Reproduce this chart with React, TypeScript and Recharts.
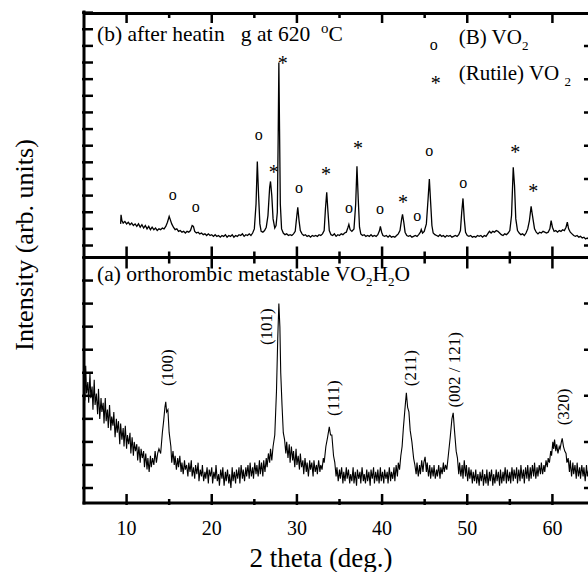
import React from "react";
import { ComposedChart, Line, Scatter, XAxis, YAxis } from "recharts";

const FONT = "'Liberation Serif', 'Times New Roman', serif";

// 2 theta axis
const thetaDomain = [5, 65];
const thetaTicks = [10, 15, 20, 25, 30, 35, 40, 45, 50, 55, 60];

// both panels share one intensity axis: (a) sits in [-0.65, 10], (b) is stacked above it
const intensityDomain = [-0.65, 20.65];
const panelSplit = 10;
const heatedBase = 10.52; // where (b)'s zero sits on the shared axis
const heatedScale = 0.7217; // (b) units are drawn smaller than (a) units

// intensity tick marks (arbitrary units, no labels)
const heatedTicksLeft = [0, 1, 2, 3, 4, 5, 6, 7, 8, 9, 10, 11, 12, 13, 14];
const heatedTicksRight = [0, 2, 4, 6, 8, 10, 12, 14];
const preparedTicksLeft = [0, 1, 2, 3, 4, 5, 6, 7, 8, 9];
const preparedTicksRight = [0, 2, 4, 6, 8];

// (b) after heating at 620 C : [2theta, intensity]
const heatedScan: [number, number][] = [
  [9.3, 1.3], [9.35, 1.85], [9.45, 1.5], [9.6, 1.35], [9.8, 1.45], [10.0, 1.3], [10.2, 1.4], [10.4, 1.25],
  [10.6, 1.35], [10.8, 1.2], [11.0, 1.3], [11.2, 1.15], [11.4, 1.3], [11.6, 1.1], [11.8, 1.25], [12.0, 1.05],
  [12.2, 1.2], [12.4, 1.0], [12.6, 1.15], [12.8, 0.95], [13.0, 1.1], [13.2, 0.95], [13.4, 1.05], [13.6, 0.9],
  [13.8, 1.0], [14.0, 0.95], [14.2, 1.05], [14.4, 1.0], [14.6, 1.15], [14.8, 1.4], [15.0, 1.75], [15.1, 1.6],
  [15.3, 1.3], [15.5, 1.1], [15.7, 0.95], [15.9, 1.0], [16.1, 0.85], [16.3, 0.9], [16.5, 0.8], [16.7, 0.85],
  [16.9, 0.75], [17.1, 0.85], [17.3, 0.8], [17.5, 0.9], [17.7, 1.2], [17.85, 1.15], [18.0, 0.85], [18.2, 0.75],
  [18.4, 0.8], [18.6, 0.7], [18.8, 0.75], [19.0, 0.65], [19.2, 0.7], [19.4, 0.6], [19.6, 0.7], [19.8, 0.6],
  [20.0, 0.65], [20.2, 0.55], [20.4, 0.65], [20.6, 0.55], [20.8, 0.6], [21.0, 0.5], [21.2, 0.6], [21.4, 0.55],
  [21.6, 0.65], [21.8, 0.5], [22.0, 0.6], [22.2, 0.55], [22.4, 0.65], [22.6, 0.5], [22.8, 0.6], [23.0, 0.55],
  [23.2, 0.65], [23.4, 0.6], [23.6, 0.7], [23.8, 0.55], [24.0, 0.65], [24.2, 0.6], [24.4, 0.7], [24.6, 0.6],
  [24.8, 0.75], [25.0, 1.0], [25.2, 2.5], [25.35, 5.05], [25.5, 3.0], [25.65, 1.3], [25.8, 0.85], [26.0, 0.8],
  [26.2, 0.9], [26.4, 1.1], [26.6, 1.8], [26.8, 3.5], [26.9, 3.85], [27.05, 3.0], [27.2, 1.6], [27.4, 1.05],
  [27.55, 1.2], [27.7, 2.0], [27.8, 6.5], [27.88, 11.0], [27.96, 7.0], [28.05, 2.5], [28.2, 1.0], [28.4, 0.75],
  [28.6, 0.65], [28.8, 0.7], [29.0, 0.6], [29.2, 0.65], [29.4, 0.6], [29.6, 0.7], [29.8, 0.85], [29.95, 1.6],
  [30.1, 2.3], [30.25, 1.5], [30.4, 0.9], [30.6, 0.7], [30.8, 0.6], [31.0, 0.65], [31.2, 0.55], [31.4, 0.6],
  [31.6, 0.5], [31.8, 0.6], [32.0, 0.55], [32.2, 0.6], [32.4, 0.55], [32.6, 0.65], [32.8, 0.6], [33.0, 0.7],
  [33.2, 0.9], [33.35, 2.2], [33.5, 3.2], [33.65, 2.0], [33.8, 0.9], [34.0, 0.65], [34.2, 0.6], [34.4, 0.7],
  [34.6, 0.55], [34.8, 0.65], [35.0, 0.6], [35.2, 0.7], [35.4, 0.65], [35.6, 0.75], [35.8, 0.8], [36.0, 1.1],
  [36.1, 1.27], [36.25, 0.95], [36.45, 0.85], [36.7, 1.0], [36.9, 2.5], [37.05, 4.76], [37.2, 2.8], [37.35, 1.1],
  [37.5, 0.7], [37.7, 0.6], [37.9, 0.65], [38.1, 0.55], [38.3, 0.6], [38.5, 0.55], [38.7, 0.65], [38.9, 0.55],
  [39.1, 0.6], [39.3, 0.55], [39.5, 0.65], [39.7, 0.9], [39.8, 1.15], [39.95, 0.8], [40.1, 0.6], [40.3, 0.55],
  [40.5, 0.6], [40.7, 0.5], [40.9, 0.6], [41.1, 0.5], [41.3, 0.55], [41.5, 0.5], [41.7, 0.6], [41.9, 0.7],
  [42.1, 0.9], [42.3, 1.6], [42.4, 1.87], [42.55, 1.4], [42.7, 0.8], [42.9, 0.6], [43.1, 0.55], [43.3, 0.6],
  [43.5, 0.5], [43.7, 0.55], [43.9, 0.6], [44.1, 0.55], [44.3, 0.65], [44.5, 0.8], [44.6, 0.96], [44.75, 0.75],
  [44.95, 0.85], [45.2, 1.3], [45.4, 2.8], [45.55, 4.0], [45.7, 2.6], [45.85, 1.2], [46.0, 0.75], [46.2, 0.65],
  [46.4, 0.6], [46.6, 0.55], [46.8, 0.65], [47.0, 0.55], [47.2, 0.6], [47.4, 0.5], [47.6, 0.6], [47.8, 0.55],
  [48.0, 0.6], [48.2, 0.5], [48.4, 0.55], [48.6, 0.6], [48.8, 0.55], [49.0, 0.65], [49.2, 0.9], [49.35, 2.0],
  [49.5, 2.83], [49.65, 1.6], [49.8, 0.8], [50.0, 0.6], [50.2, 0.55], [50.4, 0.6], [50.6, 0.5], [50.8, 0.55],
  [51.0, 0.5], [51.2, 0.6], [51.4, 0.55], [51.6, 0.6], [51.8, 0.5], [52.0, 0.6], [52.2, 0.55], [52.4, 0.7],
  [52.6, 0.85], [52.8, 0.75], [53.0, 0.85], [53.2, 0.8], [53.4, 0.9], [53.6, 0.85], [53.8, 0.75], [54.0, 0.65],
  [54.2, 0.6], [54.4, 0.7], [54.6, 0.65], [54.8, 0.75], [55.0, 0.9], [55.2, 1.8], [55.4, 4.7], [55.55, 3.6],
  [55.7, 1.6], [55.9, 0.9], [56.1, 0.75], [56.3, 0.65], [56.5, 0.7], [56.7, 0.6], [56.9, 0.75], [57.1, 1.0],
  [57.3, 1.5], [57.5, 2.35], [57.6, 2.0], [57.75, 1.5], [57.9, 1.0], [58.1, 0.8], [58.3, 0.7], [58.5, 0.8],
  [58.7, 0.75], [58.9, 0.85], [59.1, 0.8], [59.3, 0.75], [59.5, 0.8], [59.7, 1.0], [59.85, 1.5], [60.0, 1.1],
  [60.2, 0.85], [60.4, 0.9], [60.6, 0.8], [60.8, 0.9], [61.0, 0.85], [61.2, 0.95], [61.4, 0.9], [61.6, 1.1],
  [61.75, 1.4], [61.9, 1.0], [62.1, 0.8], [62.3, 0.7], [62.5, 0.6], [62.7, 0.55], [62.9, 0.6], [63.1, 0.5],
  [63.3, 0.55], [63.5, 0.45], [63.7, 0.5], [63.9, 0.4], [64.1, 0.45], [64.3, 0.35], [64.5, 0.4], [64.7, 0.3],
  [65.0, 0.35],
];

// (a) orthorhombic metastable VO2 H2O : [2theta, intensity]
const preparedScan: [number, number][] = [
  [5.0, 4.9], [5.1, 3.8], [5.2, 5.3], [5.3, 4.1], [5.45, 4.6], [5.55, 3.7], [5.7, 5.0], [5.8, 3.9],
  [5.95, 4.4], [6.05, 3.4], [6.2, 4.7], [6.3, 3.6], [6.45, 4.1], [6.6, 3.2], [6.7, 4.3], [6.85, 3.0],
  [7.0, 3.9], [7.1, 3.3], [7.25, 3.7], [7.35, 2.8], [7.5, 3.9], [7.6, 2.9], [7.75, 3.4], [7.85, 2.6],
  [8.0, 3.6], [8.15, 2.5], [8.25, 3.1], [8.4, 2.7], [8.5, 3.3], [8.65, 2.2], [8.8, 3.0], [8.9, 2.4],
  [9.05, 2.9], [9.2, 1.9], [9.3, 2.8], [9.45, 2.1], [9.6, 2.6], [9.7, 1.8], [9.85, 2.7], [10.0, 1.7],
  [10.1, 2.3], [10.25, 1.9], [10.4, 2.4], [10.5, 1.5], [10.65, 2.2], [10.8, 1.4], [10.9, 2.0], [11.05, 1.6],
  [11.2, 1.9], [11.3, 1.2], [11.45, 1.8], [11.6, 1.1], [11.7, 1.7], [11.85, 1.3], [12.0, 1.6], [12.1, 0.9],
  [12.25, 1.5], [12.4, 0.8], [12.5, 1.3], [12.65, 0.7], [12.8, 1.4], [12.9, 0.9], [13.05, 1.3], [13.2, 1.0],
  [13.35, 1.6], [13.5, 1.1], [13.65, 1.5], [13.8, 1.7], [14.0, 1.5], [14.2, 2.4], [14.35, 2.9], [14.5, 3.5],
  [14.6, 3.74], [14.7, 3.3], [14.85, 3.4], [15.0, 2.4], [15.2, 1.8], [15.3, 1.1], [15.45, 1.6], [15.6, 1.0],
  [15.7, 1.4], [15.85, 0.8], [16.0, 1.3], [16.1, 0.9], [16.25, 1.4], [16.4, 0.7], [16.5, 1.1], [16.65, 0.6],
  [16.8, 1.2], [16.9, 0.8], [17.05, 1.0], [17.2, 0.5], [17.3, 1.1], [17.45, 0.7], [17.6, 1.2], [17.7, 0.5],
  [17.85, 0.9], [18.0, 0.4], [18.1, 1.0], [18.25, 0.6], [18.4, 1.1], [18.5, 0.3], [18.65, 0.8], [18.8, 0.5],
  [18.9, 1.0], [19.05, 0.3], [19.2, 0.7], [19.3, 0.4], [19.45, 0.9], [19.6, 0.2], [19.7, 0.8], [19.85, 0.5],
  [20.0, 0.9], [20.1, 0.2], [20.25, 0.7], [20.4, 0.4], [20.5, 1.0], [20.65, 0.3], [20.8, 0.6], [20.9, 0.1],
  [21.05, 0.8], [21.2, 0.4], [21.3, 0.9], [21.45, 0.1], [21.6, 0.7], [21.7, 0.3], [21.85, 0.8], [22.0, 0.2],
  [22.1, 0.6], [22.25, 0.0], [22.4, 0.9], [22.5, 0.3], [22.65, 0.7], [22.8, 0.2], [22.9, 0.8], [23.05, 0.4],
  [23.2, 0.9], [23.3, 0.2], [23.45, 1.0], [23.6, 0.4], [23.7, 0.8], [23.85, 0.3], [24.0, 0.9], [24.1, 0.5],
  [24.25, 1.0], [24.4, 0.4], [24.5, 1.1], [24.65, 0.5], [24.8, 0.9], [24.9, 0.4], [25.05, 1.1], [25.2, 0.6],
  [25.3, 1.0], [25.45, 0.5], [25.6, 1.2], [25.7, 0.6], [25.85, 1.1], [26.0, 0.5], [26.1, 1.2], [26.25, 0.7],
  [26.4, 1.3], [26.5, 0.9], [26.65, 1.5], [26.8, 1.1], [26.9, 1.7], [27.05, 1.2], [27.2, 1.8], [27.4, 2.3],
  [27.6, 4.2], [27.75, 6.5], [27.88, 8.0], [28.0, 7.0], [28.1, 5.0], [28.25, 3.6], [28.4, 2.4], [28.55, 2.1],
  [28.7, 1.5], [28.8, 2.0], [28.95, 1.3], [29.1, 1.9], [29.2, 1.1], [29.35, 1.8], [29.5, 1.2], [29.6, 1.6],
  [29.75, 0.9], [29.9, 1.7], [30.0, 1.0], [30.15, 1.4], [30.3, 0.8], [30.4, 1.5], [30.55, 0.9], [30.7, 1.2],
  [30.8, 0.6], [30.95, 1.3], [31.1, 0.7], [31.2, 1.1], [31.35, 0.5], [31.5, 1.2], [31.6, 0.8], [31.75, 1.1],
  [31.9, 0.5], [32.0, 1.2], [32.15, 0.7], [32.3, 1.0], [32.4, 0.6], [32.55, 1.2], [32.7, 0.7], [32.8, 1.0],
  [32.95, 0.8], [33.1, 1.3], [33.2, 1.1], [33.4, 1.8], [33.6, 2.2], [33.8, 2.65], [33.95, 2.3], [34.1, 2.3],
  [34.3, 1.4], [34.45, 1.1], [34.6, 0.5], [34.7, 0.9], [34.85, 0.3], [35.0, 0.8], [35.1, 0.4], [35.25, 0.9],
  [35.4, 0.2], [35.5, 0.7], [35.65, 0.3], [35.8, 0.9], [35.9, 0.4], [36.05, 0.8], [36.2, 0.2], [36.3, 0.6],
  [36.45, 0.3], [36.6, 0.9], [36.7, 0.2], [36.85, 0.7], [37.0, 0.1], [37.1, 0.8], [37.25, 0.4], [37.4, 0.7],
  [37.5, 0.2], [37.65, 0.9], [37.8, 0.3], [37.9, 0.6], [38.05, 0.2], [38.2, 0.8], [38.3, 0.3], [38.45, 0.7],
  [38.6, 0.1], [38.7, 0.8], [38.85, 0.4], [39.0, 0.9], [39.1, 0.2], [39.25, 0.7], [39.4, 0.3], [39.5, 0.8],
  [39.65, 0.2], [39.8, 0.9], [39.9, 0.3], [40.05, 0.7], [40.2, 0.2], [40.3, 0.8], [40.45, 0.4], [40.6, 0.7],
  [40.7, 0.2], [40.85, 0.9], [41.0, 0.3], [41.1, 0.7], [41.25, 0.4], [41.4, 0.9], [41.5, 0.3], [41.65, 1.0],
  [41.8, 0.5], [41.9, 1.1], [42.05, 0.8], [42.2, 1.4], [42.35, 1.8], [42.5, 2.6], [42.7, 3.5], [42.85, 4.13],
  [43.0, 3.5], [43.15, 3.3], [43.3, 2.5], [43.5, 2.0], [43.7, 1.3], [43.85, 1.0], [44.0, 0.6], [44.1, 1.1],
  [44.25, 0.5], [44.4, 1.0], [44.5, 0.6], [44.65, 1.2], [44.8, 0.7], [44.9, 1.1], [45.05, 1.35], [45.2, 0.7],
  [45.3, 1.1], [45.45, 0.5], [45.6, 1.0], [45.7, 0.4], [45.85, 0.9], [46.0, 0.5], [46.1, 1.0], [46.25, 0.4],
  [46.4, 0.8], [46.5, 0.5], [46.65, 1.0], [46.8, 0.4], [46.9, 0.9], [47.05, 0.6], [47.2, 1.1], [47.3, 0.7],
  [47.45, 1.0], [47.6, 0.8], [47.8, 1.5], [48.0, 2.2], [48.2, 3.0], [48.35, 3.26], [48.5, 2.5], [48.7, 1.6],
  [48.85, 1.3], [49.0, 0.6], [49.1, 1.1], [49.25, 0.5], [49.4, 1.0], [49.5, 0.4], [49.65, 1.2], [49.8, 0.5],
  [49.9, 1.0], [50.05, 0.3], [50.2, 0.9], [50.3, 0.4], [50.45, 0.8], [50.6, 0.2], [50.7, 0.7], [50.85, 0.3],
  [51.0, 0.8], [51.1, 0.2], [51.25, 0.6], [51.4, 0.1], [51.5, 0.7], [51.65, 0.3], [51.8, 0.8], [51.9, 0.1],
  [52.05, 0.6], [52.2, 0.2], [52.3, 0.8], [52.45, 0.1], [52.6, 0.7], [52.7, 0.3], [52.85, 0.8], [53.0, 0.1],
  [53.1, 0.6], [53.25, 0.2], [53.4, 0.8], [53.5, 0.3], [53.65, 0.7], [53.8, 0.1], [53.9, 0.8], [54.05, 0.2],
  [54.2, 0.7], [54.3, 0.3], [54.45, 0.9], [54.6, 0.2], [54.7, 0.8], [54.85, 0.3], [55.0, 0.7], [55.1, 0.2],
  [55.25, 0.9], [55.4, 0.3], [55.5, 0.8], [55.65, 0.4], [55.8, 0.9], [55.9, 0.2], [56.05, 0.8], [56.2, 0.3],
  [56.3, 1.0], [56.45, 0.4], [56.6, 0.8], [56.7, 0.2], [56.85, 0.9], [57.0, 0.4], [57.1, 1.0], [57.25, 0.3],
  [57.4, 0.9], [57.5, 0.4], [57.65, 1.0], [57.8, 0.5], [57.9, 1.1], [58.05, 0.4], [58.2, 0.9], [58.3, 0.5],
  [58.45, 1.0], [58.6, 0.6], [58.7, 1.1], [58.85, 0.6], [59.0, 1.0], [59.1, 0.7], [59.25, 1.2], [59.4, 0.9],
  [59.5, 1.3], [59.65, 1.1], [59.8, 1.6], [59.9, 1.4], [60.05, 2.0], [60.15, 1.7], [60.25, 2.1], [60.4, 1.6],
  [60.5, 1.9], [60.65, 1.5], [60.8, 1.8], [60.9, 1.7], [61.05, 2.0], [61.15, 2.15], [61.3, 1.8], [61.45, 1.6],
  [61.6, 1.5], [61.7, 1.1], [61.85, 1.3], [62.0, 0.7], [62.1, 1.2], [62.25, 0.5], [62.4, 1.1], [62.5, 0.6],
  [62.65, 1.0], [62.8, 0.4], [62.9, 1.1], [63.05, 0.5], [63.2, 0.9], [63.3, 0.4], [63.45, 1.0], [63.6, 0.5],
  [63.7, 0.9], [63.85, 0.3], [64.0, 1.0], [64.1, 0.5], [64.25, 0.8], [64.4, 0.4], [64.5, 0.9], [64.65, 0.5],
  [64.8, 0.8], [65.0, 0.6],
];

// phase markers above the peaks of (b): o = (B) VO2, * = rutile VO2
const phaseMarks = [
  { t: 15.41, v: 2.95, sym: "o" },
  { t: 18.12, v: 2.23, sym: "o" },
  { t: 25.53, v: 6.57, sym: "o" },
  { t: 27.29, v: 4.52, sym: "*" },
  { t: 28.35, v: 11.1, sym: "*" },
  { t: 30.24, v: 3.37, sym: "o" },
  { t: 33.41, v: 4.4, sym: "*" },
  { t: 36.12, v: 2.17, sym: "o" },
  { t: 37.18, v: 5.96, sym: "*" },
  { t: 39.76, v: 2.11, sym: "o" },
  { t: 42.47, v: 2.71, sym: "*" },
  { t: 44.12, v: 1.69, sym: "o" },
  { t: 45.53, v: 5.6, sym: "o" },
  { t: 49.53, v: 3.67, sym: "o" },
  { t: 55.64, v: 5.72, sym: "*" },
  { t: 57.76, v: 3.37, sym: "*" },
];

// Miller indices of (a)
const hklLabels = [
  { t: 14.82, v: 5.22, text: "(100)" },
  { t: 26.47, v: 7.0, text: "(101)" },
  { t: 34.35, v: 3.9, text: "(111)" },
  { t: 43.3, v: 5.2, text: "(211)" },
  { t: 48.5, v: 5.13, text: "(002 / 121)" },
  { t: 61.3, v: 3.52, text: "(320)" },
];

// where the panel titles and the legend sit (text baseline start, shared axis units)
const annotationSpots = [
  { t: 6.53, v: 19.39, id: "titleB" },
  { t: 46.06, v: 19.0, id: "symB" },
  { t: 49.0, v: 19.26, id: "legB" },
  { t: 46.29, v: 17.26, id: "symR" },
  { t: 49.0, v: 17.7, id: "legR" },
  { t: 6.53, v: 8.96, id: "titleA" },
];

// frame pieces that the two axes do not draw (top edge, panel divider, right edge)
const unitsPerPx = 1 / 23;
const degPerPx = 1 / 8.5;
const topEdge = intensityDomain[1];
const tickLen = (t: number) => (t % 10 === 0 ? 11 : 6) * unitsPerPx;

const toShared = (v: number) => heatedBase + v * heatedScale;

const heatedData = heatedScan.map(([t, v]) => ({ t, v: toShared(v) }));
const preparedData = preparedScan.map(([t, v]) => ({ t, v }));
const markData = phaseMarks.map((m) => ({ ...m, v: toShared(m.v) }));

const leftTicks = [...preparedTicksLeft, panelSplit, ...heatedTicksLeft.map(toShared)];
const rightTicks = [...preparedTicksRight, panelSplit, ...heatedTicksRight.map(toShared)];

const dividerData = [{ t: thetaDomain[0], v: panelSplit }, { t: thetaDomain[1], v: panelSplit }];
const topEdgeData = [
  { t: thetaDomain[0], v: topEdge - 1.5 * unitsPerPx },
  { t: thetaDomain[1], v: topEdge - 1.5 * unitsPerPx },
];
const dividerTicks = thetaTicks.flatMap((t) => [
  { t, v: panelSplit - tickLen(t) },
  { t, v: panelSplit + tickLen(t) },
  { t, v: null },
]);
const topTicks = thetaTicks.flatMap((t) => [
  { t, v: topEdge },
  { t, v: topEdge - tickLen(t) },
  { t, v: null },
]);
const rightTickMarks = rightTicks.flatMap((v) => [
  { t: thetaDomain[1], v },
  { t: thetaDomain[1] - 11 * degPerPx, v },
  { t: thetaDomain[1], v: null },
]);

const axisLine = { stroke: "#000", strokeWidth: 3, strokeLinecap: "square" as const };

function XTick(props: any) {
  const { x, y, payload, dir, showLabel } = props;
  const major = payload.value % 10 === 0;
  return (
    <g>
      <line x1={x} x2={x} y1={y} y2={y + dir * (major ? 11 : 6)} stroke="#000" strokeWidth={2.5} />
      {showLabel && major ? (
        <text x={x} y={y + 30} textAnchor="middle" fontSize={20} fontFamily={FONT} fill="#000">
          {payload.value}
        </text>
      ) : null}
    </g>
  );
}

function YTick(props: any) {
  const { x, y, dir } = props;
  return <line x1={x} x2={x + dir * 11} y1={y} y2={y} stroke="#000" strokeWidth={2.5} />;
}

const renderMark = (p: any) => {
  const star = p.payload.sym === "*";
  return (
    <text x={p.cx} y={p.cy + (star ? 9 : 4)} textAnchor="middle" fontSize={star ? 20 : 16} fontFamily={FONT} fill="#000">
      {p.payload.sym}
    </text>
  );
};

const renderHkl = (p: any) => (
  <text
    x={p.cx}
    y={p.cy}
    transform={`rotate(-90 ${p.cx} ${p.cy})`}
    textAnchor="middle"
    dominantBaseline="central"
    fontSize={17}
    fontFamily={FONT}
    fill="#000"
  >
    {p.payload.text}
  </text>
);

const renderAnnotation = (p: any) => {
  const common = { x: p.cx, y: p.cy, fontFamily: FONT, fill: "#000" };
  switch (p.payload.id) {
    case "titleB":
      return (
        <text {...common} fontSize={21.5} style={{ whiteSpace: "pre" }}>
          {"(b) after heatin   g at 620  "}
          <tspan fontSize={15} dy={-8}>o</tspan>
          <tspan dy={8}>C</tspan>
        </text>
      );
    case "titleA":
      return (
        <text {...common} fontSize={21.5}>
          (a) orthorombic metastable VO<tspan fontSize={13} dy={5}>2</tspan>
          <tspan dy={-5}>H</tspan>
          <tspan fontSize={13} dy={5}>2</tspan>
          <tspan dy={-5}>O</tspan>
        </text>
      );
    case "symB":
      return <text {...common} fontSize={16} textAnchor="middle">o</text>;
    case "symR":
      return <text {...common} fontSize={20} textAnchor="middle">*</text>;
    case "legB":
      return (
        <text {...common} fontSize={21}>
          (B) VO<tspan fontSize={13} dy={6}>2</tspan>
        </text>
      );
    case "legR":
      return (
        <text {...common} fontSize={21} style={{ whiteSpace: "pre" }}>
          {"(Rutile) VO "}
          <tspan fontSize={13} dy={6}>2</tspan>
        </text>
      );
    default:
      return <g />;
  }
};

const renderYTitle = () => (
  <text x={33} y={245} fontSize={26} fontFamily={FONT} fill="#000" textAnchor="middle" transform="rotate(-90 33 245)">
    Intensity (arb. units)
  </text>
);

const renderXTitle = () => (
  <text x={321} y={567} fontSize={27} fontFamily={FONT} fill="#000" textAnchor="middle">
    2 theta (deg.)
  </text>
);

export default function App() {
  return (
    <div style={{ position: "fixed", left: 0, top: 0, width: 588, height: 572, overflow: "hidden", background: "#fff" }}>
      <ComposedChart width={620} height={572} margin={{ top: 12, right: 25, bottom: 68, left: 83 }}>
        <XAxis xAxisId="b" dataKey="t" type="number" domain={thetaDomain} ticks={thetaTicks} interval={0} allowDataOverflow
          height={1} tickSize={0} tickLine={false} axisLine={axisLine} tick={<XTick dir={-1} showLabel />} label={renderXTitle} />
        <YAxis yAxisId="l" dataKey="v" type="number" domain={intensityDomain} ticks={leftTicks} interval={0} allowDataOverflow
          width={1} tickSize={0} tickLine={false} axisLine={axisLine} tick={<YTick dir={1} />} label={renderYTitle} />

        <Line xAxisId="b" yAxisId="l" data={preparedData} dataKey="v" stroke="#000" strokeWidth={1.1} dot={false} isAnimationActive={false} />
        <Scatter xAxisId="b" yAxisId="l" data={hklLabels} dataKey="v" shape={renderHkl} isAnimationActive={false} />

        <Line xAxisId="b" yAxisId="l" data={heatedData} dataKey="v" stroke="#000" strokeWidth={1.3} dot={false} isAnimationActive={false} />
        <Scatter xAxisId="b" yAxisId="l" data={markData} dataKey="v" shape={renderMark} isAnimationActive={false} />

        <Scatter xAxisId="b" yAxisId="l" data={annotationSpots} dataKey="v" shape={renderAnnotation} isAnimationActive={false} />

        <Line xAxisId="b" yAxisId="l" data={topEdgeData} dataKey="v" stroke="#000" strokeWidth={3} dot={false} isAnimationActive={false} />
        <Line xAxisId="b" yAxisId="l" data={topTicks} dataKey="v" stroke="#000" strokeWidth={2.5} dot={false} isAnimationActive={false} />
        <Line xAxisId="b" yAxisId="l" data={dividerData} dataKey="v" stroke="#000" strokeWidth={3} dot={false} isAnimationActive={false} />
        <Line xAxisId="b" yAxisId="l" data={dividerTicks} dataKey="v" stroke="#000" strokeWidth={2.5} dot={false} isAnimationActive={false} />
        <Line xAxisId="b" yAxisId="l" data={rightTickMarks} dataKey="v" stroke="#000" strokeWidth={2.5} dot={false} isAnimationActive={false} />
      </ComposedChart>
    </div>
  );
}
